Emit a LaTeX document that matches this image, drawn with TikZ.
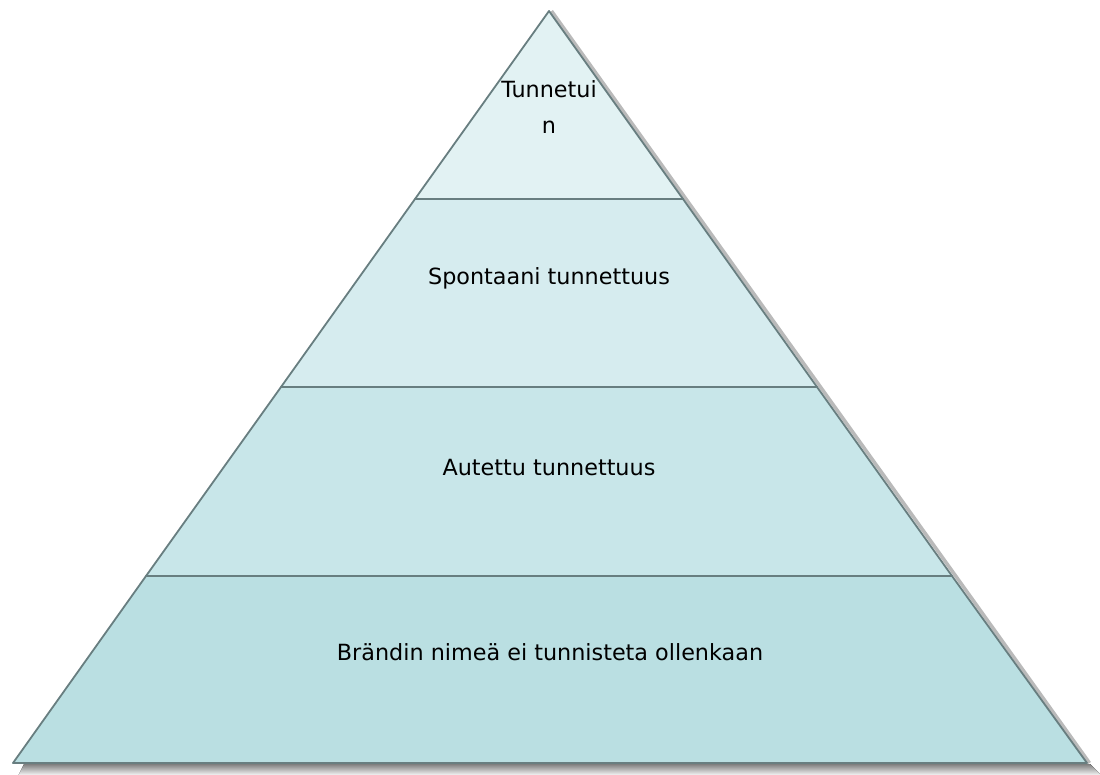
\documentclass[tikz,border=0pt]{standalone}
\usepackage{fontspec}
\setmainfont{DejaVu Sans}
\begin{document}
\begin{tikzpicture}[x=1pt,y=-1pt,
  band/.style={draw=edgegray,line width=1.8pt,line join=round},
  lbl/.style={font=\fontsize{22.3}{36}\selectfont,text=black,inner sep=0pt,align=center}]
\definecolor{edgegray}{HTML}{687E80}
\definecolor{shade}{HTML}{BEBEBE}
\definecolor{tierA}{HTML}{E2F2F3}
\definecolor{tierB}{HTML}{D6ECEF}
\definecolor{tierC}{HTML}{C8E6E9}
\definecolor{tierD}{HTML}{BADFE2}
\useasboundingbox (0,0) rectangle (1100,774);
% corners of the pyramid and of its tiers
\coordinate (apex) at (549,11);
\coordinate (l1) at (415,199); \coordinate (r1) at (683,199);
\coordinate (l2) at (281,387); \coordinate (r2) at (817,387);
\coordinate (l3) at (146,576); \coordinate (r3) at (952,576);
\coordinate (l4) at (13,763);  \coordinate (r4) at (1087,763);
% drop shadow
\fill[shade] (24,764) -- (1090,764) -- (1102,776) -- (18,776) -- cycle;
\draw[black!60,line width=3.5pt,opacity=0.45] ([xshift=2.5pt]apex) -- ([xshift=2.5pt]r4);
% tiers
\filldraw[band,fill=tierD] (l3) -- (r3) -- (r4) -- (l4) -- cycle;
\filldraw[band,fill=tierC] (l2) -- (r2) -- (r3) -- (l3) -- cycle;
\filldraw[band,fill=tierB] (l1) -- (r1) -- (r2) -- (l2) -- cycle;
\filldraw[band,fill=tierA] (apex) -- (r1) -- (l1) -- cycle;
\draw[edgegray,line width=2.4pt] (l4) -- (r4);
% labels
\node[lbl] (t1) at (549,107) {Tunnetui\\n};
\node[lbl] (t2) at (549,278) {Spontaani tunnettuus};
\node[lbl] (t3) at (549,468) {Autettu tunnettuus};
\node[lbl] (t4) at (550,652) {Brändin nimeä ei tunnisteta ollenkaan};
\end{tikzpicture}
\end{document}
